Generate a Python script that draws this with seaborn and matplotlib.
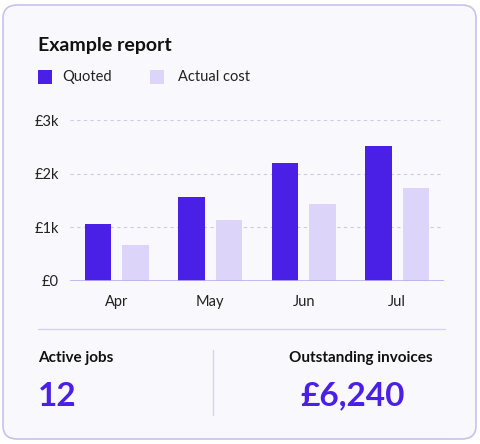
import matplotlib
matplotlib.use("Agg")
import matplotlib.pyplot as plt
import seaborn as sns
import pandas as pd
from matplotlib.patches import FancyBboxPatch, Rectangle

months = ["Apr", "May", "Jun", "Jul"]
quoted = [1060, 1560, 2200, 2510]
actual = [670, 1140, 1430, 1730]
series = ["Quoted", "Actual cost"]
yticks = [0, 1000, 2000, 3000]
yticklabels = ["£0", "£1k", "£2k", "£3k"]

PURPLE = "#4A1FE6"
LIGHT = "#DCD4F9"
GRID = "#CFC8F2"

df = pd.DataFrame({
    "month": months * 2,
    "value": quoted + actual,
    "series": [series[0]] * 4 + [series[1]] * 4,
})

sns.set_theme(style="white")
plt.rcParams["font.family"] = ["Lato", "DejaVu Sans"]
W, H = 481, 444
fig = plt.figure(figsize=(W / 100, H / 100), dpi=100)
fig.patch.set_facecolor("white")

card = FancyBboxPatch((3 / W, 5 / H), 473 / W, 434 / H,
                      boxstyle="round,pad=0,rounding_size=0.03",
                      transform=fig.transFigure, facecolor="#F9F8FC",
                      edgecolor="#C9C0F0", linewidth=1.2, zorder=-10)
fig.patches.append(card)

ax = fig.add_axes([70 / W, 1 - 281 / H, 374 / W, 161 / H])
ax.set_zorder(5)
ax.set_facecolor("none")
sns.barplot(data=df, x="month", y="value", hue="series", ax=ax,
            palette=[PURPLE, LIGHT], width=0.66, legend=False, saturation=1)
for p in ax.patches:
    w = p.get_width()
    nw = 0.28
    p.set_x(p.get_x() + (w - nw) / 2 + (0.035 if p.get_facecolor()[0] > 0.5 else -0.035))
    p.set_width(nw)
    p.set_edgecolor("none")
ax.set_ylim(0, 3000)
ax.set_xlim(-0.5, 3.5)
ax.set_yticks(yticks)
ax.set_yticklabels(yticklabels, fontsize=10.5, color="#222")
ax.tick_params(axis="x", labelsize=10.5, colors="#222", pad=10, length=0)
ax.tick_params(axis="y", length=0, pad=8)
for v in yticks[1:]:
    ax.axhline(v, color=GRID, linestyle=(0, (3, 3)), linewidth=0.8, zorder=0)
ax.axhline(0, color="#B9AEF0", linewidth=1.2)
for s in ax.spines.values():
    s.set_visible(False)
ax.set_xlabel("")
ax.set_ylabel("")

fig.text(38 / W, 1 - 45 / H, "Example report", fontsize=14, fontweight="bold",
         color="#111", va="center")
fig.patches.append(Rectangle((38 / W, 1 - 84 / H), 14 / W, 14 / H,
                             transform=fig.transFigure, facecolor=PURPLE, edgecolor="none"))
fig.text(62 / W, 1 - 77 / H, series[0], fontsize=10.5, color="#222", va="center")
fig.patches.append(Rectangle((150 / W, 1 - 84 / H), 14 / W, 14 / H,
                             transform=fig.transFigure, facecolor=LIGHT, edgecolor="none"))
fig.text(178 / W, 1 - 77 / H, series[1], fontsize=10.5, color="#222", va="center")

fig.add_artist(plt.Line2D([38 / W, 445 / W], [1 - 329 / H] * 2, color="#D8D1F5", linewidth=1))
fig.add_artist(plt.Line2D([213 / W] * 2, [1 - 350 / H, 1 - 415 / H], color="#D8D1F5", linewidth=1))

fig.text(38 / W, 1 - 358 / H, "Active jobs", fontsize=11, fontweight="bold", color="#111", va="center")
fig.text(38 / W, 1 - 396 / H, "12", fontsize=24, fontweight="bold", color=PURPLE, va="center")
fig.text(433 / W, 1 - 358 / H, "Outstanding invoices", fontsize=11, fontweight="bold",
         color="#111", va="center", ha="right")
fig.text(405 / W, 1 - 396 / H, "£6,240", fontsize=24, fontweight="bold", color=PURPLE,
         va="center", ha="right")

fig.savefig("out.png", dpi=100)
